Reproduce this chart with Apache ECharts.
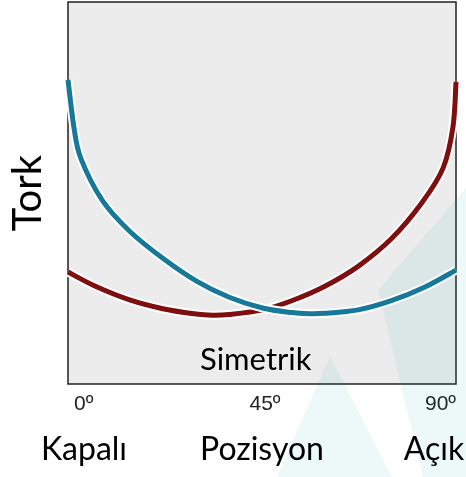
<!DOCTYPE html>
<html>
<head>
<meta charset="utf-8">
<script src="https://cdn.jsdelivr.net/npm/echarts@6/dist/echarts.min.js"></script>
<style>html,body{margin:0;padding:0;background:#fff}#c{width:466px;height:477px}</style>
</head>
<body>
<div id="c"></div>
<script>
const tealPositions = [0, 1.4, 3.0, 8.0, 14.3, 22.0, 29.7, 37.4, 45.1, 51.9, 56.0, 59.6, 67.3, 75.0, 82.8, 90];
const tealTorque    = [79.6, 67.0, 59.0, 48.0, 40.0, 32.9, 27.0, 22.7, 19.9, 18.7, 18.4, 18.5, 19.4, 21.8, 25.4, 29.8];
const redPositions  = [0, 6.5, 14.3, 22.0, 29.7, 33.5, 37.4, 45.1, 51.9, 59.6, 67.3, 75.0, 82.0, 87.0, 89.3, 90];
const redTorque     = [29.3, 25.5, 22.0, 19.7, 18.3, 18.0, 18.2, 19.4, 21.8, 25.6, 30.8, 38.0, 47.3, 56.5, 67.3, 79.1];
const tickValues = [0, 45, 90];
const tickLabels = ['0º', '45º', '90º'];
const stateLabels = ['Kapalı', 'Pozisyon', 'Açık'];
const yTitle = 'Tork';
const innerLabel = 'Simetrik';

const chart = echarts.init(document.getElementById('c'), null, {renderer: 'canvas'});

// Smooth curve through the data points, placed with the chart's own axes (api.coord)
function splinePath(pts) {
  const n = pts.length;
  let d = 'M' + pts[0][0] + ',' + pts[0][1];
  for (let i = 0; i < n - 1; i++) {
    const p0 = pts[Math.max(i - 1, 0)], p1 = pts[i], p2 = pts[i + 1], p3 = pts[Math.min(i + 2, n - 1)];
    const c1x = p1[0] + (p2[0] - p0[0]) / 6, c1y = p1[1] + (p2[1] - p0[1]) / 6;
    const c2x = p2[0] - (p3[0] - p1[0]) / 6, c2y = p2[1] - (p3[1] - p1[1]) / 6;
    d += ' C' + c1x + ',' + c1y + ' ' + c2x + ',' + c2y + ' ' + p2[0] + ',' + p2[1];
  }
  return d;
}
function curveSeries(xs, ys, color, z) {
  return {
    type: 'custom', coordinateSystem: 'cartesian2d', z, clip: false,
    data: xs.map((x, i) => [x, ys[i]]),
    encode: {x: 0, y: 1},
    renderItem: (params, api) => {
      if (params.dataIndex !== 0) return null;
      const pts = xs.map((x, i) => api.coord([x, ys[i]]));
      const d = splinePath(pts);
      return {
        type: 'group',
        children: [
          {type: 'path', shape: {pathData: d}, style: {fill: 'none', stroke: '#ffffff', lineWidth: 9}},
          {type: 'path', shape: {pathData: d}, style: {fill: 'none', stroke: color, lineWidth: 5}}
        ]
      };
    }
  };
}

chart.setOption({
  animation: false,
  grid: {left: 67, right: 10, top: 2, bottom: 93, show: true, backgroundColor: '#ececec', borderColor: '#222', borderWidth: 1.5},
  xAxis: {
    type: 'value', min: 0, max: 90, interval: 45,
    axisLine: {show: false}, axisTick: {show: false}, splitLine: {show: false},
    axisLabel: {
      margin: 10, fontSize: 21, color: '#222', fontFamily: 'Liberation Sans',
      alignMinLabel: 'left', alignMaxLabel: 'right', padding: [0, 0, 0, 6],
      formatter: (v) => tickLabels[tickValues.indexOf(v)] || ''
    }
  },
  yAxis: {
    type: 'value', min: 0, max: 100,
    axisLine: {show: false}, axisTick: {show: false}, splitLine: {show: false}, axisLabel: {show: false},
    name: yTitle, nameLocation: 'middle', nameGap: 20,
    nameTextStyle: {fontSize: 40, color: '#000', fontFamily: 'Lato'}
  },
  series: [
    curveSeries(redPositions, redTorque, '#7f0e0e', 3),
    curveSeries(tealPositions, tealTorque, '#17799a', 4)
  ],
  graphic: [
    {type: 'polygon', z: 1, silent: true, shape: {points: [[330, 356], [277, 477], [392, 477]]}, style: {fill: 'rgba(0,160,160,0.07)'}},
    {type: 'polygon', z: 1, silent: true, shape: {points: [[466, 188], [466, 477], [423, 477], [378, 290]]}, style: {fill: 'rgba(0,160,160,0.07)'}},
    {type: 'text', z: 10, left: 262 - 62, top: 344, style: {text: innerLabel, fontSize: 31, fontFamily: 'Lato', fill: '#000'}},
    {type: 'text', z: 10, x: 84, y: 450, style: {text: stateLabels[0], fontSize: 32, fontFamily: 'Lato', fill: '#000', align: 'center', verticalAlign: 'middle'}},
    {type: 'text', z: 10, x: 262, y: 450, style: {text: stateLabels[1], fontSize: 32, fontFamily: 'Lato', fill: '#000', align: 'center', verticalAlign: 'middle'}},
    {type: 'text', z: 10, x: 434, y: 450, style: {text: stateLabels[2], fontSize: 32, fontFamily: 'Lato', fill: '#000', align: 'center', verticalAlign: 'middle'}}
  ]
});
</script>
</body>
</html>
